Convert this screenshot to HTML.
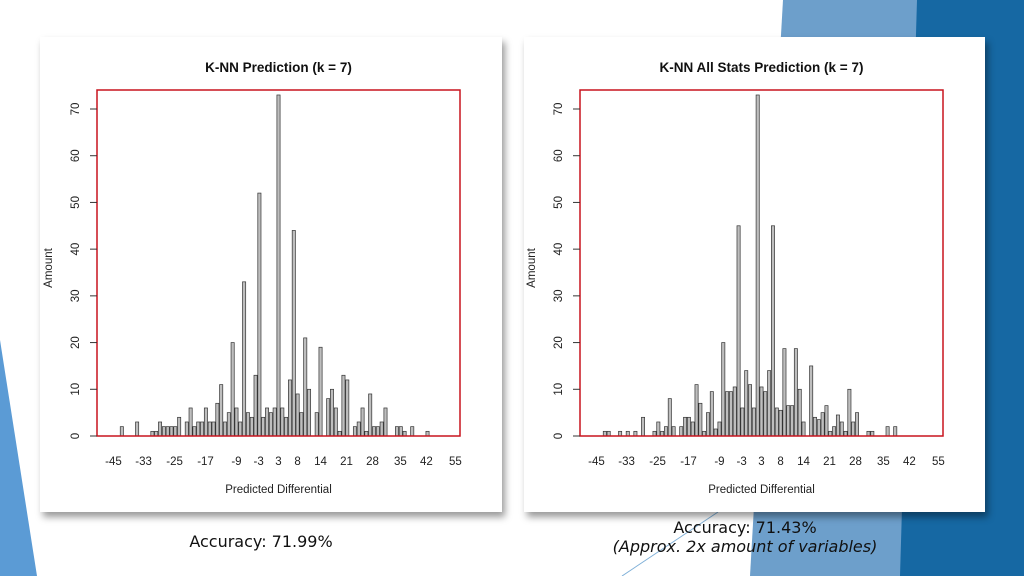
<!DOCTYPE html>
<html><head><meta charset="utf-8">
<style>
html,body{margin:0;padding:0;width:1024px;height:576px;overflow:hidden;background:#fff;font-family:"Liberation Sans",sans-serif}
#root{position:relative;width:1024px;height:576px}
.card{position:absolute;background:#fff;box-shadow:3px 5px 7px rgba(0,0,0,0.4)}
.acc{position:absolute;font-family:"DejaVu Sans","Liberation Sans",sans-serif;font-size:16px;color:#111;text-align:center}
</style></head>
<body>
<div id="root">
<svg width="1024" height="576" style="position:absolute;left:0;top:0">
  <polygon points="783,0 1024,0 1024,576 750,576" fill="#6d9fcb"/>
  <polygon points="917,0 1024,0 1024,576 900,576" fill="#1668a3"/>
  <line x1="622" y1="576" x2="718" y2="512" stroke="#7fb0d8" stroke-width="1"/>
  <polygon points="0,340 0,576 37,576" fill="#5b9bd5"/>
</svg>
<div class="card" style="left:40px;top:37px;width:462px;height:475px"></div>
<div class="card" style="left:524px;top:37px;width:461px;height:475px"></div>
<svg id="charts" width="1024" height="576" style="position:absolute;left:0;top:0"></svg>
<div class="acc" style="left:161px;top:532px;width:200px">Accuracy: 71.99%</div>
<div class="acc" style="left:595px;top:518px;width:300px;line-height:19px">Accuracy: 71.43%<br><i>(Approx. 2x amount of variables)</i></div>
</div>
<script>
// slot offsets relative to the "3" bar, and counts
const leftSlots = [-41,-37,-33,-32,-31,-30,-29,-28,-27,-26,-24,-23,-22,-21,-20,-19,-18,-17,-16,-15,-14,-13,-12,-11,-10,-9,-8,-7,-6,-5,-4,-3,-2,-1,0,1,2,3,4,5,6,7,8,10,11,13,14,15,16,17,18,20,21,22,23,24,25,26,27,28,31,32,33,35,39];
const leftValues = [2,3,1,1,3,2,2,2,2,4,3,6,2,3,3,6,3,3,7,11,3,5,20,6,3,33,5,4,13,52,4,6,5,6,73,6,4,12,44,9,5,21,10,5,19,8,10,6,1,13,12,2,3,6,1,9,2,2,3,6,2,2,1,2,1];
const rightSlots = [-41,-40,-37,-35,-33,-31,-28,-27,-26,-25,-24,-23,-21,-20,-19,-18,-17,-16,-15,-14,-13,-12,-11,-10,-9,-8,-7,-6,-5,-4,-3,-2,-1,0,1,2,3,4,5,6,7,8,9,10,11,13,14,15,16,17,18,19,20,21,22,23,24,25,28,29,33,35,38];
const rightValues = [1,1,1,1,1,4,1,3,1,2,8,2,2,4,4,3,11,7,1,5,9.5,1.5,3,20,9.5,9.5,10.5,45,6,14,11,6,73,10.5,9.5,14,45,6,5.5,18.7,6.5,6.5,18.7,10,3,15,4,3.5,5,6.5,1,2,4.5,3,1,10,3,5,1,1,2,2];
const tickLabels = ["-45","-33","-25","-17","-9","-3","3","8","14","21","28","35","42","55"];
const tickSlots = [-43.2,-35.3,-27.2,-19.1,-11,-5.2,0,5,11,17.8,24.6,31.9,38.7,46.3];
const yTicks = [0,10,20,30,40,50,60,70];

const NS="http://www.w3.org/2000/svg";
const svg=document.getElementById('charts');
function mk(tag,attrs,parent){const e=document.createElementNS(NS,tag);for(const k in attrs)e.setAttribute(k,attrs[k]);(parent||svg).appendChild(e);return e;}

function chart(left,title,slots,values,prefix){
  const top=90,bottom=436,right=left+363,nSlots=95,zeroSlot=47;
  const pitch=(right-left)/nSlots;
  const xS=s=>left+(s+zeroSlot+0.5)*pitch;
  const yS=v=>bottom-v*(327/70);
  const g=mk('g',{});
  
  
  const t=mk('text',{x:(left+right)/2,y:72,'text-anchor':'middle','font-size':13.5,'font-weight':'bold',fill:'#111'},g);
  t.textContent=title;
  
  
  for(let i=0;i<slots.length;i++){
    const w=pitch/1.2,x=xS(slots[i])-w/2,y=yS(values[i]);
    const r=mk('rect',{x:x,y:y,width:w,height:bottom-y,fill:'#bebebe',stroke:'#333','stroke-width':0.7},g);
    
    
  }
  const box=mk('rect',{x:left,y:top,width:right-left,height:bottom-top,fill:'none',stroke:'#c8141e','stroke-width':1.5},g);
  
  
  yTicks.forEach(v=>{
    const y=yS(v);
    const l=mk('line',{x1:left-7,x2:left,y1:y,y2:y,stroke:'#333','stroke-width':1},g);
    
    
    const tx=mk('text',{x:0,y:0,'text-anchor':'middle','font-size':11.5,fill:'#222',transform:`translate(${left-18},${y}) rotate(-90)`},g);
    tx.textContent=v;
    
    
  });
  tickLabels.forEach((lab,i)=>{
    const tx=mk('text',{x:xS(tickSlots[i]),y:465,'text-anchor':'middle','font-size':11.5,fill:'#222'},g);
    tx.textContent=lab;
    
    
  });
  const xt=mk('text',{x:(left+right)/2,y:493,'text-anchor':'middle','font-size':11.5,fill:'#222'},g);
  xt.textContent='Predicted Differential';
  
  
  const yt=mk('text',{x:0,y:0,'text-anchor':'middle','font-size':11.5,fill:'#222',transform:`translate(${left-45},268) rotate(-90)`},g);
  yt.textContent='Amount';
  
  
}
chart(97,'K-NN Prediction (k = 7)',leftSlots,leftValues,'left');
chart(580,'K-NN All Stats Prediction (k = 7)',rightSlots,rightValues,'right');
</script>
</body></html>
